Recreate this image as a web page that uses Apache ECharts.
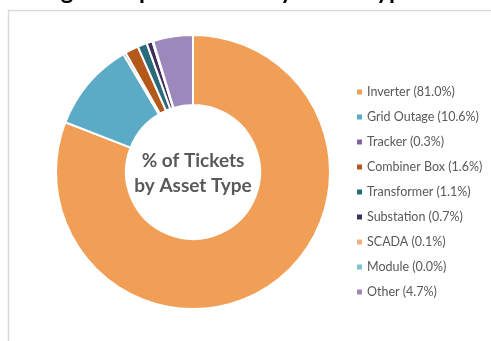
<!DOCTYPE html>
<html><head><meta charset="utf-8">
<script src="https://cdn.jsdelivr.net/npm/echarts@6/dist/echarts.min.js"></script>
<style>html,body{margin:0;padding:0;background:#fff}#c{width:491px;height:341px}</style>
</head><body><div id="c"></div>
<script>
const categories = ["Inverter","Grid Outage","Tracker","Combiner Box","Transformer","Substation","SCADA","Module","Other"];
const values = [81.0,10.6,0.3,1.6,1.1,0.7,0.1,0.0,4.7];
const colors = ["#F19E56","#5BAAC6","#7F64A1","#B5591B","#2A6A7A","#3F2F5A","#F2B07C","#7FC2D6","#9D88BC"];
const centerText = "% of Tickets\nby Asset Type";
const titleText = "Age of Open Tickets by Asset Type";

const chart = echarts.init(document.getElementById('c'));
chart.setOption({
  animation:false,
  color: colors,
  graphic:[{type:'rect',shape:{x:8.5,y:10.5,width:600,height:400},style:{fill:'#fff',stroke:'#D9D9D9',lineWidth:1.5},z:-1},
    {type:'text',z:5,style:{text:titleText,x:44,y:3,textAlign:'left',textVerticalAlign:'bottom',fontFamily:'Lato',fontSize:24,fontWeight:'bold',fill:'#000'}},
    {type:'text',style:{text:centerText,x:193,y:173,textAlign:'center',textVerticalAlign:'middle',fontFamily:'Lato',fontSize:19,fontWeight:'bold',lineHeight:25,fill:'#595959'}, z:10}],
  legend:{orient:'vertical',left:350,top:80,itemWidth:7,itemHeight:7,itemGap:11,icon:'rect',
    textStyle:{fontFamily:'Lato',fontSize:12.5,color:'#595959',lineHeight:14,padding:[0,0,0,-1]},
    formatter:function(n){const i=categories.indexOf(n);return n+' ('+values[i].toFixed(1)+'%)';}},
  series:[{type:'pie',center:[193,172],radius:[67,137],startAngle:90,clockwise:true,
    avoidLabelOverlap:false,label:{show:false},labelLine:{show:false},
    itemStyle:{borderColor:'#fff',borderWidth:2},
    emphasis:{disabled:true},
    data:categories.map((c,i)=>({name:c,value:values[i]}))}]
});
</script></body></html>
